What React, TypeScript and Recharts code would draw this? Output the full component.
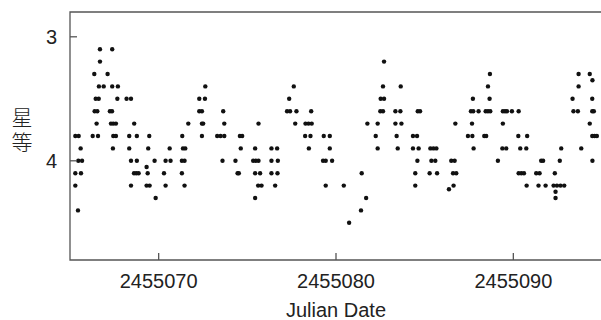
import React from "react";
import { ScatterChart, Scatter, XAxis, YAxis, ReferenceArea, Label } from "recharts";

// Visual magnitude estimates, [Julian Date, magnitude], grouped by week of observing
const obsWeek1: [number, number][] = [
  [2455065.30, 3.8], [2455065.49, 3.8], [2455065.60, 3.9], [2455065.47, 4.0], [2455065.68, 4.0],
  [2455065.30, 4.1], [2455065.62, 4.1], [2455065.30, 4.2], [2455065.45, 4.4],
  [2455066.28, 3.8], [2455066.58, 3.8], [2455066.50, 3.7], [2455066.39, 3.6], [2455066.54, 3.6],
  [2455066.45, 3.5], [2455066.62, 3.5], [2455066.37, 3.3], [2455066.63, 3.4], [2455066.90, 3.4],
  [2455066.69, 3.2], [2455066.69, 3.1],
  [2455067.38, 3.1], [2455067.12, 3.3], [2455067.38, 3.4], [2455067.70, 3.4], [2455067.67, 3.5],
  [2455067.25, 3.6], [2455067.37, 3.6], [2455067.31, 3.7], [2455067.44, 3.7], [2455067.59, 3.7],
  [2455067.44, 3.8], [2455067.59, 3.8], [2455067.42, 3.9],
  [2455068.19, 3.5], [2455068.44, 3.5], [2455068.62, 3.7], [2455068.34, 3.8], [2455068.77, 3.8],
  [2455068.34, 3.9], [2455068.44, 4.0], [2455068.77, 4.0], [2455068.61, 4.1], [2455068.74, 4.1],
  [2455068.87, 4.1], [2455068.44, 4.2],
  [2455069.47, 3.8], [2455069.41, 3.9], [2455069.32, 4.05], [2455069.77, 4.0], [2455069.38, 4.1],
  [2455069.32, 4.2], [2455069.49, 4.2], [2455069.83, 4.3],
  [2455070.62, 3.9], [2455070.39, 4.0], [2455070.67, 4.0], [2455070.30, 4.1], [2455070.39, 4.2],
  [2455071.33, 3.8], [2455071.37, 3.9], [2455071.50, 3.9], [2455071.31, 4.0], [2455071.46, 4.0],
  [2455071.31, 4.1], [2455071.46, 4.2], [2455071.67, 3.7],
];

const obsWeek2: [number, number][] = [
  [2455072.63, 3.4], [2455072.29, 3.5], [2455072.61, 3.5], [2455072.29, 3.6], [2455072.44, 3.6],
  [2455072.44, 3.7], [2455072.51, 3.7], [2455072.44, 3.8],
  [2455073.64, 3.6], [2455073.70, 3.7], [2455073.30, 3.8], [2455073.49, 3.8], [2455073.70, 3.8],
  [2455073.60, 4.0],
  [2455074.58, 3.8], [2455074.71, 3.8], [2455074.63, 3.9], [2455074.33, 4.0], [2455074.45, 4.1],
  [2455074.52, 4.1],
  [2455075.63, 3.7], [2455075.44, 3.9], [2455075.33, 4.0], [2455075.48, 4.0], [2455075.63, 4.0],
  [2455075.44, 4.1], [2455075.72, 4.1], [2455075.61, 4.2], [2455075.80, 4.2], [2455075.44, 4.3],
  [2455076.36, 3.9], [2455076.68, 3.9], [2455076.36, 4.0], [2455076.72, 4.0], [2455076.36, 4.1],
  [2455076.70, 4.1], [2455076.57, 4.2],
  [2455077.62, 3.4], [2455077.36, 3.5], [2455077.24, 3.6], [2455077.41, 3.6], [2455077.77, 3.6],
  [2455077.70, 3.7],
  [2455078.60, 3.6], [2455078.28, 3.7], [2455078.45, 3.7], [2455078.63, 3.7], [2455078.26, 3.8],
  [2455078.56, 3.8], [2455078.47, 3.9],
];

const obsWeek3: [number, number][] = [
  [2455079.31, 3.8], [2455079.65, 3.8], [2455079.65, 3.9], [2455079.27, 4.0], [2455079.42, 4.0],
  [2455079.78, 4.0], [2455079.42, 4.2],
  [2455080.44, 4.2], [2455080.74, 4.5],
  [2455081.77, 3.7], [2455081.45, 4.1], [2455081.70, 4.3], [2455081.41, 4.4],
  [2455082.71, 3.2], [2455082.65, 3.4], [2455082.52, 3.5], [2455082.71, 3.5], [2455082.50, 3.6],
  [2455082.65, 3.6], [2455082.35, 3.7], [2455082.24, 3.8], [2455082.35, 3.9],
  [2455083.65, 3.4], [2455083.35, 3.6], [2455083.63, 3.6], [2455083.35, 3.7], [2455083.69, 3.7],
  [2455083.42, 3.8], [2455083.48, 3.9],
  [2455084.61, 3.6], [2455084.74, 3.6], [2455084.34, 3.8], [2455084.57, 3.8], [2455084.34, 3.9],
  [2455084.66, 3.9], [2455084.59, 4.0], [2455084.47, 4.1], [2455084.47, 4.2],
  [2455085.32, 3.9], [2455085.49, 3.9], [2455085.66, 3.9], [2455085.38, 4.0], [2455085.60, 4.0],
  [2455085.28, 4.1], [2455085.70, 4.1],
  [2455086.37, 4.23],
];

const obsWeek4: [number, number][] = [
  [2455086.50, 4.0], [2455086.69, 4.0], [2455086.60, 4.1], [2455086.78, 4.1], [2455086.63, 4.2],
  [2455086.73, 3.7],
  [2455087.72, 3.5], [2455087.61, 3.6], [2455087.74, 3.6], [2455087.67, 3.7], [2455087.44, 3.8],
  [2455087.69, 3.8], [2455087.76, 3.9],
  [2455088.68, 3.3], [2455088.57, 3.4], [2455088.66, 3.5], [2455088.04, 3.6], [2455088.44, 3.6],
  [2455088.57, 3.6], [2455088.70, 3.6], [2455088.36, 3.8], [2455088.47, 3.8],
  [2455089.41, 3.6], [2455089.53, 3.6], [2455089.64, 3.6], [2455089.92, 3.6], [2455089.41, 3.7],
  [2455089.38, 3.9], [2455089.60, 3.9], [2455089.13, 4.0],
  [2455090.30, 3.6], [2455090.28, 3.8], [2455090.78, 3.8], [2455090.39, 3.9], [2455090.73, 3.9],
  [2455090.30, 4.1], [2455090.45, 4.1], [2455090.60, 4.1], [2455090.75, 4.2],
  [2455091.57, 4.0], [2455091.68, 4.0], [2455091.29, 4.1], [2455091.48, 4.1], [2455091.42, 4.2],
  [2455091.82, 4.2],
  [2455092.70, 3.9], [2455092.62, 4.0], [2455092.34, 4.1], [2455092.27, 4.2], [2455092.46, 4.2],
  [2455092.66, 4.2], [2455092.87, 4.2], [2455092.38, 4.25], [2455092.38, 4.3],
  [2455093.68, 3.3], [2455093.68, 3.4], [2455093.34, 3.5], [2455093.39, 3.6], [2455093.64, 3.6],
  [2455093.83, 3.9],
  [2455094.31, 3.3], [2455094.46, 3.35], [2455094.45, 3.5], [2455094.45, 3.6], [2455094.54, 3.6],
  [2455094.31, 3.7], [2455094.45, 3.8], [2455094.58, 3.8], [2455094.71, 3.8], [2455094.46, 4.0],
];

const xTicks = [2455070, 2455080, 2455090];
const yTicks = [3, 4];
const xDomain: [number, number] = [2455065, 2455095];
const yDomain: [number, number] = [2.8, 4.8];

const points = [...obsWeek1, ...obsWeek2, ...obsWeek3, ...obsWeek4].map(([jd, mag]) => ({ jd, mag }));

const FONT = '"Liberation Sans", Arial, Helvetica, sans-serif';
const CJK_FONT = '"Noto Sans CJK SC", sans-serif';
const AXIS_COLOR = "#555";

// ticks point into the plot frame
const XTick = ({ x, y, payload }: any) => (
  <g>
    <line x1={x} y1={y} x2={x} y2={y - 7} stroke={AXIS_COLOR} strokeWidth={1.3} />
    <text x={x} y={y + 28} textAnchor="middle" fontSize={20} fill="#222" fontFamily={FONT}>
      {payload.value}
    </text>
  </g>
);

const YTick = ({ x, y, payload }: any) => (
  <g>
    <line x1={x} y1={y} x2={x + 7} y2={y} stroke={AXIS_COLOR} strokeWidth={1.3} />
    <text x={x - 13} y={y + 7} textAnchor="end" fontSize={20} fill="#222" fontFamily={FONT}>
      {payload.value}
    </text>
  </g>
);

const Dot = (props: any) => <circle cx={props.cx} cy={props.cy} r={2.2} fill="#111" />;

export default function App() {
  return (
    <div
      style={{
        position: "absolute",
        left: 0,
        top: 0,
        width: 601,
        height: 320,
        overflow: "hidden",
        background: "#fff",
      }}
    >
      <ScatterChart width={610} height={320} margin={{ top: 12, right: 8, bottom: 0, left: 0 }}>
        <XAxis
          dataKey="jd"
          type="number"
          domain={xDomain}
          ticks={xTicks}
          allowDataOverflow
          axisLine={false}
          tickLine={false}
          tickSize={0}
          tickMargin={0}
          height={60}
          tick={<XTick />}
        >
          <Label
            content={() => (
              <text x={336} y={317} textAnchor="middle" fontSize={20} fill="#222" fontFamily={FONT}>
                Julian Date
              </text>
            )}
          />
        </XAxis>
        <YAxis
          dataKey="mag"
          type="number"
          domain={yDomain}
          ticks={yTicks}
          reversed
          allowDataOverflow
          axisLine={false}
          tickLine={false}
          tickSize={0}
          tickMargin={0}
          width={70}
          tick={<YTick />}
        >
          {/* upright characters stacked top to bottom */}
          <Label
            content={() => (
              <text
                x={22}
                y={107}
                fontSize={21}
                fill="#222"
                fontFamily={CJK_FONT}
                fontWeight={300}
                letterSpacing={4}
                style={{ writingMode: "vertical-rl" }}
              >
                星等
              </text>
            )}
          />
        </YAxis>
        <ReferenceArea
          x1={xDomain[0]}
          x2={xDomain[1]}
          y1={yDomain[0]}
          y2={yDomain[1]}
          fill="none"
          stroke={AXIS_COLOR}
          strokeWidth={1.3}
        />
        <Scatter data={points} shape={<Dot />} isAnimationActive={false} />
      </ScatterChart>
    </div>
  );
}
